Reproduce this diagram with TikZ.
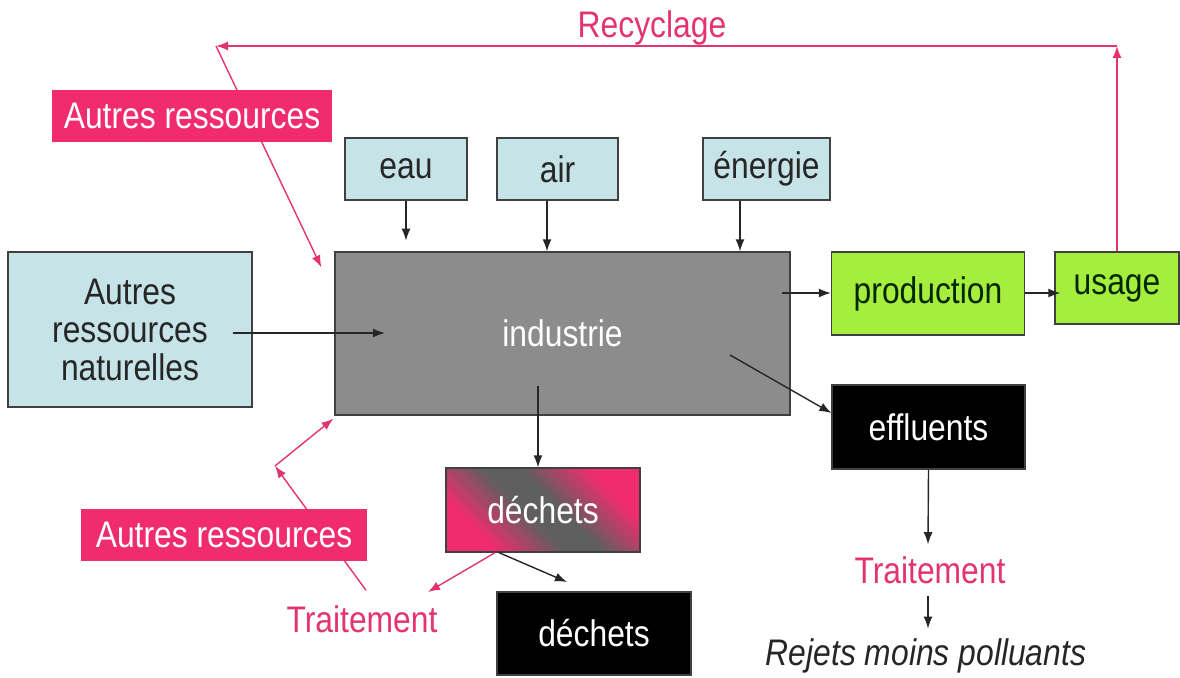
\documentclass[tikz,border=0pt]{standalone}
\usepackage{fontspec}
\setmainfont[FakeStretch=0.86]{Liberation Sans}
\usetikzlibrary{arrows.meta,calc}
\definecolor{lblue}{RGB}{198,227,231}
\definecolor{pinkbox}{RGB}{240,44,110}
\definecolor{pinktxt}{RGB}{228,52,112}
\definecolor{greenbox}{RGB}{166,238,62}
\definecolor{graybox}{RGB}{140,140,140}
\definecolor{bord}{RGB}{64,64,64}
\definecolor{dgray}{RGB}{95,95,95}
\pgfdeclarelayer{background}
\pgfsetlayers{background,main}
\pgfdeclarehorizontalshading{dechshade}{100bp}{color(0bp)=(pinkbox); color(36bp)=(pinkbox); color(47bp)=(dgray); color(53bp)=(dgray); color(64bp)=(pinkbox); color(100bp)=(pinkbox)}
\begin{document}
\begin{tikzpicture}[x=1pt,y=-1pt,
  txt/.style={font=\fontsize{37}{38}\selectfont},
  box/.style={txt,draw=bord,line width=1.3pt,inner sep=0pt,align=center},
  bluebox/.style={box,fill=lblue,text=black!85},
  pbox/.style={txt,fill=pinkbox,text=white,inner sep=0pt},
  gbox/.style={box,fill=greenbox,text=black!85!green},
  kbox/.style={box,fill=black,text=white},
  arr/.style={line width=1.4pt,draw=black!85,-{Latex[length=12pt,width=9pt]}},
  parr/.style={line width=1.4pt,draw=pinktxt,-{Latex[length=12pt,width=9pt]}}]
\useasboundingbox (0,0) rectangle (1180,677);

\node[txt,text=pinktxt] (recy) at (652,28) {Recyclage};
\node[pbox,minimum width=280pt,minimum height=52pt] (auttop) at (192,116) {Autres ressources};
\node[bluebox,minimum width=122pt,minimum height=62pt] (eau) at (406,169) {eau};
\node[bluebox,minimum width=121pt,minimum height=62pt] (air) at (557.5,169) {air};
\node[bluebox,minimum width=127pt,minimum height=62pt] (ener) at (766.5,169) {énergie};
\node[box,fill=graybox,text=white,minimum width=455pt,minimum height=163pt] (ind) at (562.5,333.5) {industrie};
\node[bluebox,minimum width=244pt,minimum height=155pt] (nat) at (130,329.5) {Autres\\ressources\\naturelles};
\node[gbox,minimum width=193pt,minimum height=83pt] (prod) at (928,293.5) {production};
\node[gbox,minimum width=124pt,minimum height=72pt] (usage) at (1117,288) {usage};
\node[kbox,minimum width=193pt,minimum height=84pt] (eff) at (928.5,427) {effluents};
\node[box,text=white,minimum width=194pt,minimum height=84pt] (dech1) at (543,510) {déchets};
\node[kbox,minimum width=194pt,minimum height=83pt] (dech2) at (594,633.5) {déchets};
\node[pbox,minimum width=286pt,minimum height=52pt] (autbot) at (224,535) {Autres ressources};
\node[txt,text=pinktxt,inner sep=0pt] (trait1) at (362,619) {Traitement};
\node[txt,text=pinktxt,inner sep=0pt] (trait2) at (930,570) {Traitement};
\node[txt,font=\fontsize{37}{38}\selectfont\itshape,text=black!85,inner sep=0pt] (rej) at (926,656) {Rejets moins polluants};

\coordinate (rtr) at (1117,46);
\coordinate (rtl) at (216,46);
\coordinate (kink) at (275,466);

\begin{pgfonlayer}{background}
\fill[white] (0,0) rectangle (1180,677);
\begin{scope}
\clip (dech1.north west) rectangle (dech1.south east);
\path[shading=dechshade,shading angle=45]
  ($(dech1.center)+(-110,-110)$) rectangle ($(dech1.center)+(110,110)$);
\end{scope}
\draw[parr] (usage.north) -- (rtr);
\draw[parr] (rtr) -- (rtl);
\draw[parr] (rtl) -- ($(ind.north west)+(-13,16)$);
\draw[parr] ($(trait1.north)+(4,-15)$) -- (kink);
\end{pgfonlayer}
\draw[parr] (kink) -- ($(ind.south west)+(-1,3)$);

\draw[arr] (eau.south) -- ++(0,40);
\draw[arr] (air.south -| 547,0) -- (ind.north -| 547,0);
\draw[arr] (ener.south -| 740,0) -- (ind.north -| 740,0);
\draw[arr] ($(nat.east)+(-20,3.5)$) -- (385,333);
\draw[arr] (782,293) -- (prod.west |- 0,293);
\draw[arr] (prod.east |- 0,293) -- ($(usage.west |- 0,293)+(6,0)$);
\draw[arr] (730,355) -- (eff.north west |- 0,413);
\draw[arr] (538,386) -- (dech1.north -| 538,0);
\draw[parr] ($(dech1.south)+(-48,0)$) -- (428,592);
\draw[arr] ($(dech1.south)+(-44,0)$) -- (567,582);
\draw[arr] (eff.south) -- ($(trait2.north)+(-2,-12)$);
\draw[arr] ($(trait2.south)+(-2,12)$) -- ($(rej.north)+(2,-10)$);
\end{tikzpicture}
\end{document}
